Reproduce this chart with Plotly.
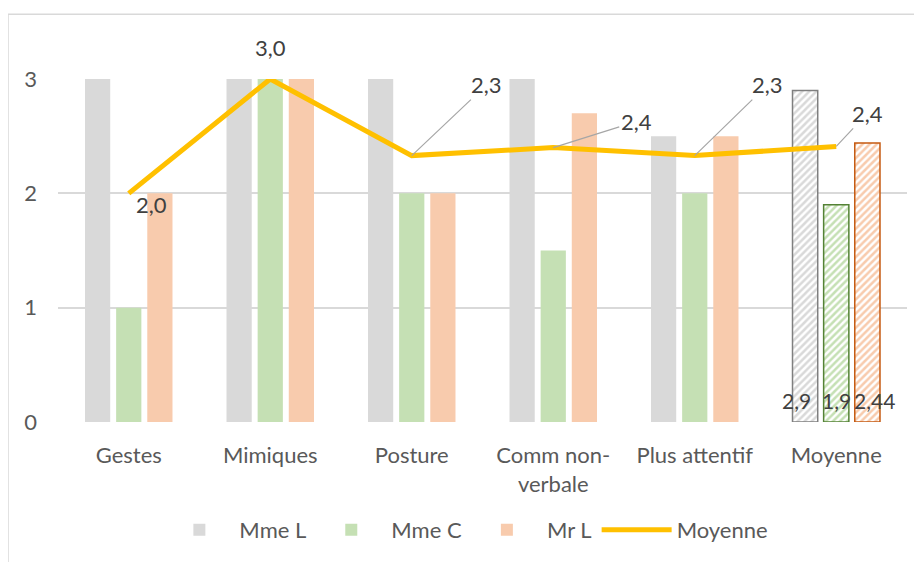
import plotly.graph_objects as go

categories = ["Gestes", "Mimiques", "Posture", "Comm non-<br>verbale", "Plus attentif", "Moyenne"]
mme_l = [3, 3, 3, 3, 2.5, 2.9]
mme_c = [1, 3, 2, 1.5, 2, 1.9]
mr_l = [2, 3, 2, 2.7, 2.5, 2.44]
moyenne = [2.0, 3.0, 2.33, 2.4, 2.33, 2.41]
moyenne_bar_labels = ["2,9", "1,9", "2,44"]
line_labels = ["2,0", "3,0", "2,3", "2,4", "2,3", "2,4"]

FONT = "Lato, Carlito, Calibri, sans-serif"
TXT = "#404040"
FS = 22

def bar_trace(name, vals, light, dark):
    n = len(vals)
    last = n - 1
    hatched = [i == last for i in range(n)]
    return go.Bar(
        name=name, x=categories, y=vals,
        marker=dict(
            color=light,
            line=dict(color=[dark if h else light for h in hatched],
                      width=[1.5 if h else 0 for h in hatched]),
            pattern=dict(shape=["/" if h else "" for h in hatched],
                         bgcolor="white", size=5, solidity=0.5, fillmode="replace"),
        ),
        hoverinfo="skip",
    )

fig = go.Figure()
fig.add_trace(bar_trace("Mme L", mme_l, "#d9d9d9", "#7f7f7f"))
fig.add_trace(bar_trace("Mme C", mme_c, "#c5e0b4", "#548235"))
fig.add_trace(bar_trace("Mr L", mr_l, "#f8cbad", "#c55a11"))
fig.add_trace(go.Scatter(name="Moyenne", x=categories, y=moyenne, mode="lines",
                         line=dict(color="#ffc000", width=5), hoverinfo="skip"))

# data labels of the averaged bars, at their base
for lab, dx in zip(moyenne_bar_labels, [-40, 0, 38]):
    fig.add_annotation(x=categories[-1], y=0, text=lab, showarrow=False, xshift=dx, yshift=22,
                       xanchor="center", yanchor="middle",
                       font=dict(family=FONT, size=FS - 1, color=TXT))

offsets = [(23, 11, False), (0, -32, False), (75, -71, True), (83, -26, True), (73, -71, True), (31, -33, True)]
for c, v, lab, (ax, ay, arrow) in zip(categories, moyenne, line_labels, offsets):
    if arrow:
        fig.add_annotation(x=c, y=v, text=lab, showarrow=True, ax=ax, ay=ay,
                           xanchor="center", yanchor="middle",
                           arrowhead=0, arrowcolor="#a6a6a6", arrowwidth=1.2,
                           font=dict(family=FONT, size=FS, color=TXT))
    else:
        fig.add_annotation(x=c, y=v, text=lab, showarrow=False, xshift=ax, yshift=-ay,
                           xanchor="center", yanchor="middle",
                           font=dict(family=FONT, size=FS, color=TXT))

fig.add_shape(type="rect", xref="paper", yref="paper", x0=-0.0589, x1=1.2, y0=-0.6, y1=1.189,
              line=dict(color="#d9d9d9", width=1.5), fillcolor="rgba(0,0,0,0)", layer="below")

fig.update_layout(
    width=914, height=554,
    margin=dict(l=50, r=15, t=71, b=139),
    paper_bgcolor="white", plot_bgcolor="white",
    barmode="group", bargap=0.34, bargroupgap=0.19,
    font=dict(family=FONT, size=FS, color="#595959"),
    showlegend=True,
    legend=dict(orientation="h", x=0.481, xanchor="center", y=-0.311, yanchor="middle",
                font=dict(family=FONT, size=FS, color="#595959"), itemwidth=70,
                traceorder="normal"),
    xaxis=dict(showline=False, ticks="", ticklabelstandoff=18,
               tickfont=dict(family=FONT, size=FS, color="#595959")),
    yaxis=dict(range=[0, 3], tickvals=[0, 1, 2, 3], showline=False, zeroline=False,
               gridcolor="#d9d9d9", gridwidth=1.5, ticklabelstandoff=20,
               tickfont=dict(family=FONT, size=FS, color="#595959")),
)
fig.update_traces(cliponaxis=False)

fig.write_html("out.html")
